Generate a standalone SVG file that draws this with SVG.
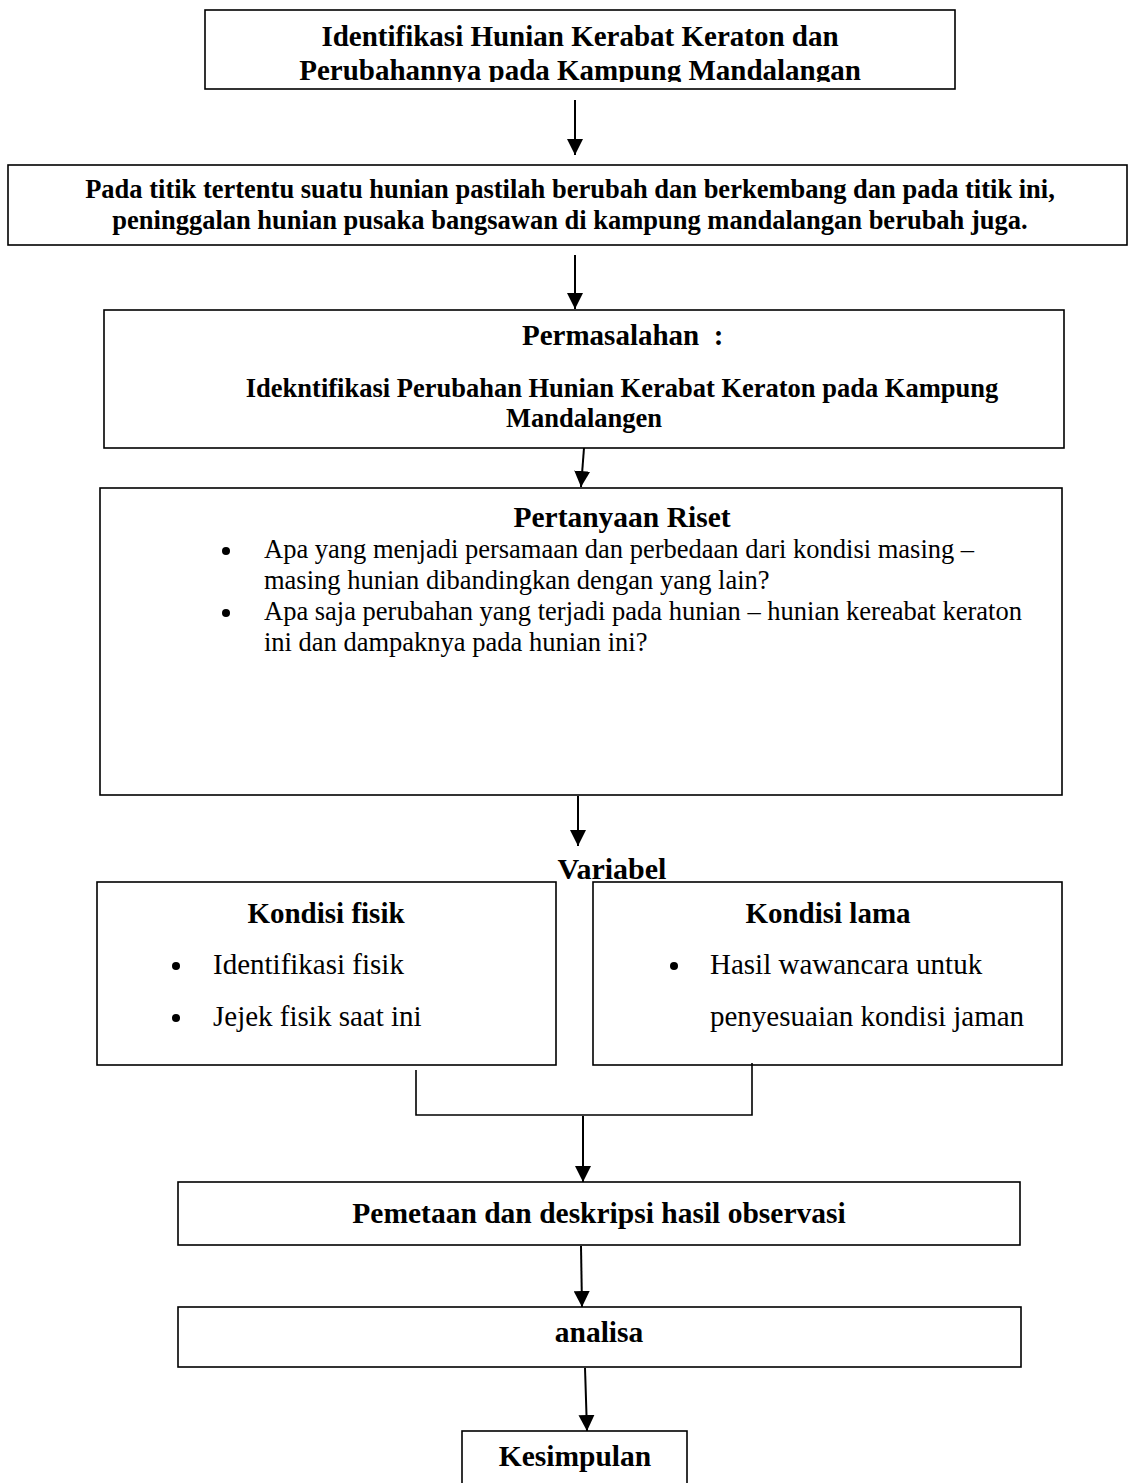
<svg xmlns="http://www.w3.org/2000/svg" width="1134" height="1483" viewBox="0 0 1134 1483">
<style>
.box{fill:#fff;stroke:#000;stroke-width:1.6}
.b{font-family:"Liberation Serif","Times New Roman",serif;font-weight:bold;fill:#000}
.n{font-family:"Liberation Serif","Times New Roman",serif;fill:#000}
.c{text-anchor:middle}
.ln{stroke:#000;stroke-width:2;fill:none}
.thin{stroke:#000;stroke-width:1.6;fill:none}
</style>
<defs>
<marker id="ah" markerWidth="16" markerHeight="16" refX="16" refY="8" orient="auto" markerUnits="userSpaceOnUse" viewBox="0 0 16 16">
<path d="M0,0 L16,8 L0,16 Z" fill="#000"/>
</marker>
<clipPath id="clip1"><rect x="206" y="11" width="748" height="71"/></clipPath>
</defs>
<rect width="1134" height="1483" fill="#fff"/>
<g id="n1">
<rect class="box" x="205" y="10" width="750" height="79"/>
<g clip-path="url(#clip1)">
<text class="b c" x="580" y="46" font-size="29">Identifikasi Hunian Kerabat Keraton dan</text>
<text class="b c" x="580" y="80" font-size="29">Perubahannya pada Kampung Mandalangan</text>
</g>
</g>
<g id="n2">
<rect class="box" x="8" y="165" width="1119" height="80"/>
<text class="b c" x="570" y="198" font-size="26.5">Pada titik tertentu suatu hunian pastilah berubah dan berkembang dan pada titik ini,</text>
<text class="b c" x="570" y="229" font-size="26.5">peninggalan hunian pusaka bangsawan di kampung mandalangan berubah juga.</text>
</g>
<g id="n3">
<rect class="box" x="104" y="310" width="960" height="138"/>
<text class="b" x="522" y="345" font-size="29" xml:space="preserve">Permasalahan  :</text>
<text class="b c" x="622" y="397" font-size="26.5">Idekntifikasi Perubahan Hunian Kerabat Keraton pada Kampung</text>
<text class="b c" x="584" y="427" font-size="26.5">Mandalangen</text>
</g>
<g id="n4">
<rect class="box" x="100" y="488" width="962" height="307"/>
<text class="b c" x="622" y="527" font-size="29.5">Pertanyaan Riset</text>
<circle cx="226" cy="551" r="4" fill="#000"/>
<text class="n" x="264" y="558" font-size="26.5">Apa yang menjadi persamaan dan perbedaan dari kondisi masing –</text>
<text class="n" x="264" y="589" font-size="26.5">masing hunian dibandingkan dengan yang lain?</text>
<circle cx="226" cy="613" r="4" fill="#000"/>
<text class="n" x="264" y="620" font-size="26.5">Apa saja perubahan yang terjadi pada hunian – hunian kereabat keraton</text>
<text class="n" x="264" y="651" font-size="26.5">ini dan dampaknya pada hunian ini?</text>
</g>
<g id="variabel">
<text class="b c" x="612" y="879" font-size="30">Variabel</text>
</g>
<g id="n5">
<rect class="box" x="97" y="882" width="459" height="183"/>
<text class="b c" x="326" y="923" font-size="29">Kondisi fisik</text>
<circle cx="176" cy="966" r="4" fill="#000"/>
<text class="n" x="213" y="974" font-size="29">Identifikasi fisik</text>
<circle cx="176" cy="1018" r="4" fill="#000"/>
<text class="n" x="213" y="1026" font-size="29">Jejek fisik saat ini</text>
</g>
<g id="n6">
<rect class="box" x="593" y="882" width="469" height="183"/>
<text class="b c" x="828" y="923" font-size="29">Kondisi lama</text>
<circle cx="674" cy="966" r="4" fill="#000"/>
<text class="n" x="710" y="974" font-size="29">Hasil wawancara untuk</text>
<text class="n" x="710" y="1026" font-size="29">penyesuaian kondisi jaman</text>
</g>
<g id="n7">
<rect class="box" x="178" y="1182" width="842" height="63"/>
<text class="b c" x="599" y="1223" font-size="29.5">Pemetaan dan deskripsi hasil observasi</text>
</g>
<g id="n8">
<rect class="box" x="178" y="1307" width="843" height="60"/>
<text class="b c" x="599" y="1342" font-size="29.5">analisa</text>
</g>
<g id="n9">
<rect class="box" x="462" y="1431" width="225" height="60"/>
<text class="b c" x="575" y="1466" font-size="29.5">Kesimpulan</text>
</g>
<g id="connectors">
<line class="ln" x1="575" y1="100" x2="575" y2="155" marker-end="url(#ah)"/>
<line class="ln" x1="575" y1="255" x2="575" y2="309" marker-end="url(#ah)"/>
<line class="ln" x1="584" y1="448" x2="581" y2="487" marker-end="url(#ah)"/>
<line class="ln" x1="578" y1="796" x2="578" y2="846" marker-end="url(#ah)"/>
<polyline class="thin" points="416,1070 416,1115 752,1115 752,1063"/>
<line class="ln" x1="583" y1="1116" x2="583" y2="1182" marker-end="url(#ah)"/>
<line class="ln" x1="581" y1="1246" x2="582" y2="1307" marker-end="url(#ah)"/>
<line class="ln" x1="585" y1="1368" x2="587" y2="1431" marker-end="url(#ah)"/>
</g>
</svg>
